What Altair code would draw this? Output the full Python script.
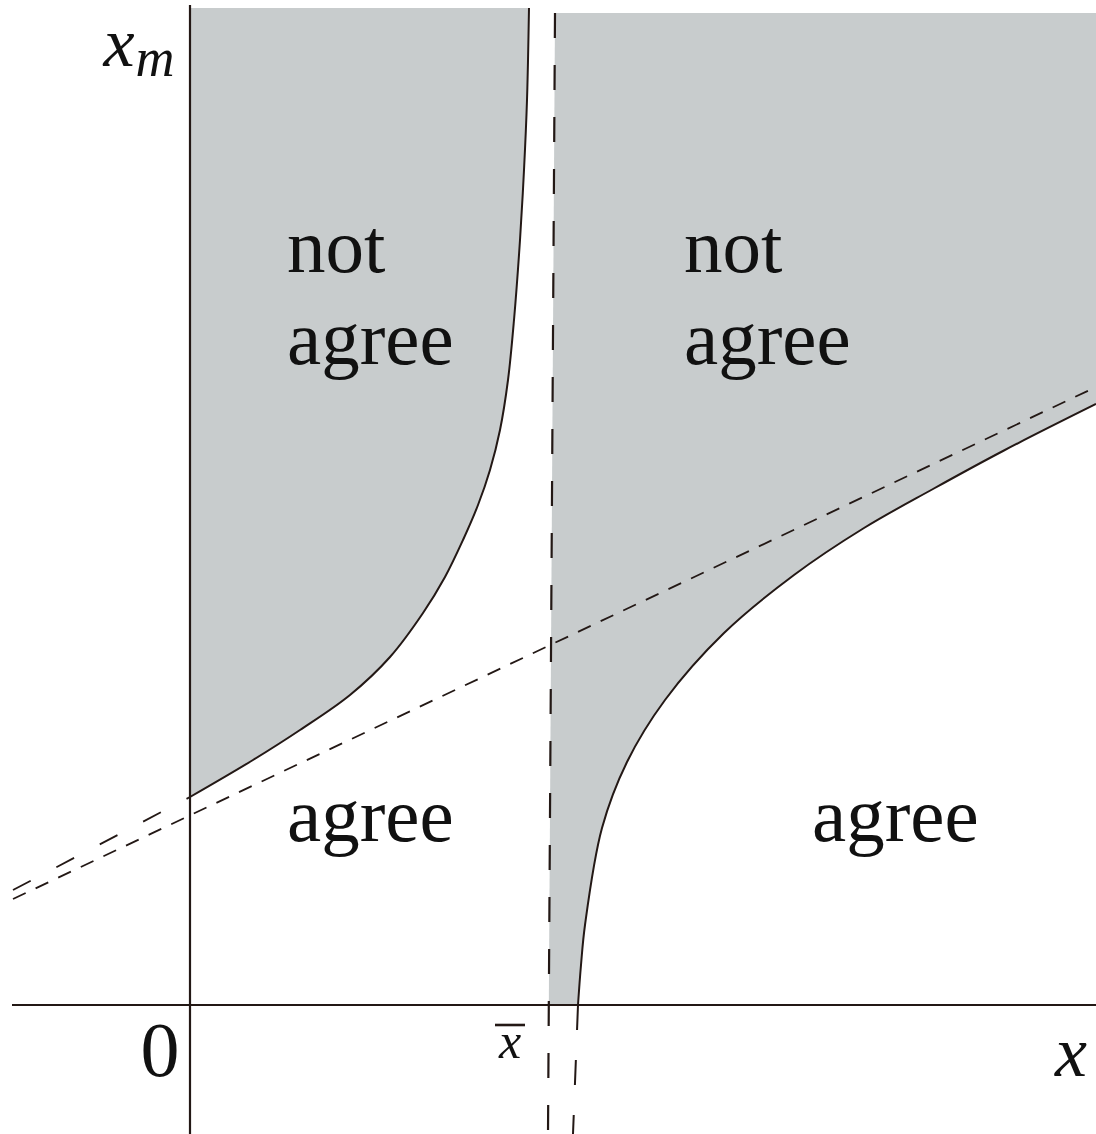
import altair as alt
import pandas as pd

INK = "#231815"
SHADE = "#c8cccd"
FONT = "Liberation Serif"
CURVE = "catmull-rom"

# Extent of the (x, x_m) plane that is drawn
X_MIN, X_MAX = -1.90, 9.06
Y_MIN, Y_MAX = -1.29, 10.05

# Boundary of the left "not agree" region (starts on the x_m axis)
left_curve_x = [0.00, 0.63, 1.10, 1.60, 2.00, 2.33, 2.55, 2.73, 2.88,
                3.00, 3.10, 3.18, 3.24, 3.30, 3.34, 3.37, 3.39]
left_curve_y = [2.08, 2.45, 2.75, 3.10, 3.48, 3.92, 4.28, 4.65, 5.00,
                5.35, 5.75, 6.25, 6.85, 7.65, 8.35, 9.05, 9.97]
left_top = 9.97

# Boundary of the right "not agree" region (starts on the x axis)
right_curve_x = [3.88, 3.91, 3.95, 4.12, 4.37, 4.75, 5.34, 6.04, 6.74, 7.43, 8.13, 9.06]
right_curve_y = [0.00, 0.40, 0.80, 1.77, 2.43, 3.05, 3.72, 4.30, 4.77, 5.16, 5.54, 6.01]
right_top = 9.92

# Vertical asymptote at x-bar (top end, bottom end)
xbar_x = [3.65, 3.58]
xbar_y = [9.92, -1.29]

# Straight dashed reference line across the plane
ref_x = [-1.77, 9.06]
ref_y = [1.06, 6.18]

# Tangent of the left boundary at x = 0, continued to the left
tan_x = [-1.77, 0.00]
tan_y = [1.15, 2.08]

# Right boundary continued below the x axis
ext_x = [3.88, 3.83]
ext_y = [0.00, -1.29]

# Axis lines
h_axis_x = [-1.78, 9.06]
v_axis_y = [10.00, -1.29]

# Region labels
region_text = ["not", "agree", "not", "agree", "agree", "agree"]
region_x = [0.97, 0.97, 4.94, 4.94, 0.97, 6.22]
region_y = [7.33, 6.41, 7.33, 6.41, 1.64, 1.64]

# Axis annotations
italic_text = ["x", "m", "x", "x"]
italic_x = [-0.71, -0.35, 8.81, 3.20]
italic_y = [9.39, 9.29, -0.71, -0.53]
italic_size = [70, 54, 72, 50]
zero_label = {"text": "0", "x": -0.30, "y": -0.71, "size": 78}
overbar_x = [3.05, 3.35]
overbar_y = -0.20

xs = alt.Scale(domain=[X_MIN, X_MAX], nice=False, zero=False)
ys = alt.Scale(domain=[Y_MIN, Y_MAX], nice=False, zero=False)
X = lambda f: alt.X(f, type="quantitative", scale=xs, axis=None)
Y = lambda f: alt.Y(f, type="quantitative", scale=ys, axis=None)


def segment(x0, y0, x1, y1, dash=None, width=2.0):
    df = pd.DataFrame({"x": [x0], "y": [y0], "x2": [x1], "y2": [y1]})
    kw = dict(color=INK, strokeWidth=width, clip=True)
    if dash:
        kw["strokeDash"] = dash
    return alt.Chart(df).mark_rule(**kw).encode(
        x=X("x"), y=Y("y"), x2="x2:Q", y2="y2:Q"
    )


# Shaded region left of x-bar: between the x_m axis and the left boundary
left_df = pd.DataFrame({"x": left_curve_x, "y": left_curve_y,
                        "top": [left_top] * len(left_curve_x)})
left_area = alt.Chart(left_df).mark_area(
    color=SHADE, interpolate=CURVE, clip=True
).encode(x=X("x"), y=Y("y"), y2="top:Q")


# Shaded region right of x-bar: sliver along the asymptote ...
def xbar_at(y):
    t = (y - xbar_y[1]) / (xbar_y[0] - xbar_y[1])
    return xbar_x[1] + t * (xbar_x[0] - xbar_x[1])


band_df = pd.DataFrame({"y": [0.0, right_top],
                        "x": [xbar_at(0.0), xbar_at(right_top)],
                        "x2": [right_curve_x[0], right_curve_x[0]]})
band_area = alt.Chart(band_df).mark_area(
    color=SHADE, orient="horizontal", clip=True
).encode(y=Y("y"), x=X("x"), x2="x2:Q")

# ... and everything above the right boundary
right_df = pd.DataFrame({"x": right_curve_x, "y": right_curve_y,
                         "top": [right_top] * len(right_curve_x)})
right_area = alt.Chart(right_df).mark_area(
    color=SHADE, interpolate=CURVE, clip=True
).encode(x=X("x"), y=Y("y"), y2="top:Q")

# Boundary curves
left_line = alt.Chart(left_df).mark_line(
    color=INK, strokeWidth=2, interpolate=CURVE, clip=True
).encode(x=X("x"), y=Y("y"))
right_line = alt.Chart(right_df).mark_line(
    color=INK, strokeWidth=2, interpolate=CURVE, clip=True
).encode(x=X("x"), y=Y("y"))

# Straight lines
h_axis = segment(h_axis_x[0], 0.0, h_axis_x[1], 0.0, width=2.2)
v_axis = segment(0.0, v_axis_y[0], 0.0, v_axis_y[1], width=2.2)
xbar_line = segment(xbar_x[0], xbar_y[0], xbar_x[1], xbar_y[1], dash=[25, 27], width=2.2)
ref_line = segment(ref_x[0], ref_y[0], ref_x[1], ref_y[1], dash=[14, 11], width=1.8)
tan_line = segment(tan_x[0], tan_y[0], tan_x[1], tan_y[1], dash=[20, 29], width=1.8)
ext_line = segment(ext_x[0], ext_y[0], ext_x[1], ext_y[1], dash=[25, 30], width=2.0)
overbar = segment(overbar_x[0], overbar_y, overbar_x[1], overbar_y, width=2.6)

# Labels
region_df = pd.DataFrame({"t": region_text, "x": region_x, "y": region_y})
region_labels = alt.Chart(region_df).mark_text(
    font=FONT, fontSize=77, align="left", baseline="alphabetic", color="#111111"
).encode(x=X("x"), y=Y("y"), text="t:N")

italic_df = pd.DataFrame({"t": italic_text, "x": italic_x, "y": italic_y,
                          "s": italic_size})
italic_labels = alt.Chart(italic_df).mark_text(
    font=FONT, fontStyle="italic", align="center", baseline="alphabetic",
    color="#111111"
).encode(x=X("x"), y=Y("y"), text="t:N", size=alt.Size("s:Q", scale=None))

zero_df = pd.DataFrame([zero_label])
zero_text = alt.Chart(zero_df).mark_text(
    font=FONT, align="center", baseline="alphabetic", color="#111111"
).encode(x=X("x"), y=Y("y"), text="text:N", size=alt.Size("size:Q", scale=None))

chart = alt.layer(
    left_area, band_area, right_area,
    h_axis, v_axis,
    left_line, right_line,
    xbar_line, ref_line, tan_line, ext_line,
    region_labels, italic_labels, zero_text, overbar,
).properties(
    width=1096, height=1134, padding=0,
    autosize=alt.AutoSizeParams(type="none"),
).configure_view(stroke=None)

chart.save("out.html", embed_options={"renderer": "svg", "actions": False})
